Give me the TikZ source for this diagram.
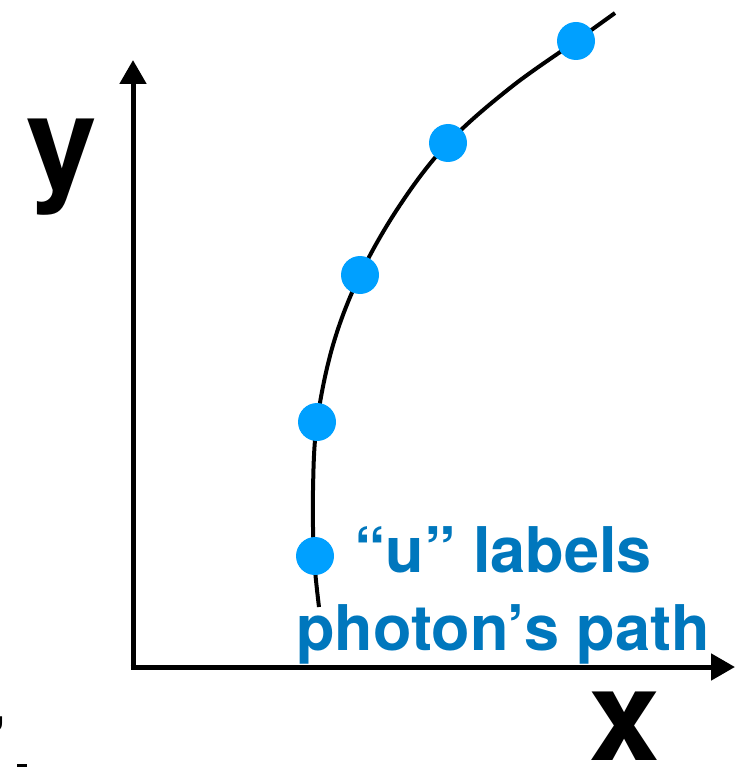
\documentclass[tikz,border=0pt]{standalone}
\usepackage{fontspec}
\setmainfont{TeX Gyre Heros}
\usetikzlibrary{arrows.meta}
\definecolor{dotblue}{HTML}{00A0FF}
\definecolor{txtblue}{HTML}{0077BD}
\begin{document}
\begin{tikzpicture}[x=1pt,y=-1pt,
  axis/.style={line width=5pt,-{Triangle[length=24pt,width=26pt]}},
  pathline/.style={line width=4pt},
  dot/.style={circle,fill=dotblue,minimum size=38pt,inner sep=0pt},
  bigletter/.style={font=\fontsize{127}{127}\selectfont\bfseries,inner sep=0pt},
  lbl/.style={font=\fontsize{63}{78}\selectfont\bfseries,text=txtblue,align=center,inner sep=0pt}]
\useasboundingbox (0,0) rectangle (734,767);
\coordinate (origin) at (133,667);
\coordinate (ytip) at (133,60);
\coordinate (xtip) at (735,667);
\draw[axis] (origin.center) ++(0,2.5) -- (ytip);
\draw[axis] (origin.center) ++(-2.5,0) -- (xtip);
\draw[pathline] plot[smooth,tension=0.6] coordinates {(319,607) (314,556) (313,490) (317,422) (333,345) (360,275) (400,205) (448,143) (510,88) (576,41) (615,13)};
\node[dot] (u1) at (315,556) {};
\node[dot] (u2) at (317,422) {};
\node[dot] (u3) at (360,275) {};
\node[dot] (u4) at (448,143) {};
\node[dot] (u5) at (576,41) {};
\node[bigletter,anchor=base] (ylab) at (62,188) {y};
\node[bigletter,anchor=base] (xlab) at (625,760) {x};
\node[lbl,anchor=base] (note) at (503,650) {“u” labels\\photon’s path};
\node[font=\fontsize{60}{60}\selectfont\bfseries,anchor=base west,inner sep=0pt] (qmark) at (-10,760) {’};
\draw[line width=3pt] (17,765.5) -- (27,765.5);
\end{tikzpicture}
\end{document}
